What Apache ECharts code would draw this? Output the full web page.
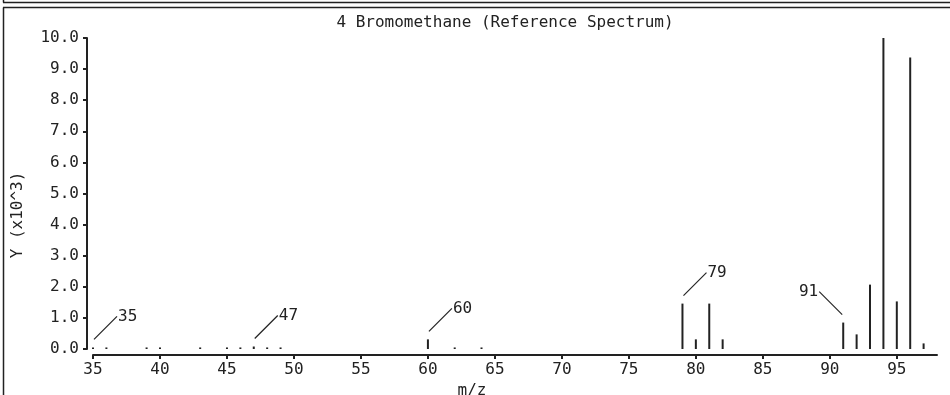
<!DOCTYPE html>
<html>
<head>
<meta charset="utf-8">
<script src="https://cdn.jsdelivr.net/npm/echarts@6/dist/echarts.min.js"></script>
<style>
html,body{margin:0;padding:0;background:#fff;}
#chart{width:950px;height:395px;}
</style>
</head>
<body>
<div id="chart"></div>
<script>
// ---- data (intensity in units of 10^3) ----
var titleText = '4 Bromomethane (Reference Spectrum)';
var xAxisName = 'm/z';
var yAxisName = 'Y (x10^3)';
var mz = [35, 36, 39, 40, 43, 45, 46, 47, 48, 49, 60, 62, 64, 79, 80, 81, 82, 91, 92, 93, 94, 95, 96, 97];
var intensity = [0.05, 0.05, 0.05, 0.05, 0.05, 0.05, 0.05, 0.08, 0.05, 0.05, 0.31, 0.05, 0.05, 1.46, 0.31, 1.46, 0.31, 0.85, 0.47, 2.07, 10.0, 1.53, 9.37, 0.18];
var annotMz = [35, 47, 60, 79, 91];
var annotSide = [1, 1, 1, 1, -1];
var xTicks = [35, 40, 45, 50, 55, 60, 65, 70, 75, 80, 85, 90, 95];
var yTicks = [0, 1, 2, 3, 4, 5, 6, 7, 8, 9, 10];

var FONT = 'DejaVu Sans Mono';
var FS = 16;
var INK = '#222';

var barData = mz.map(function (m, i) { return [m, intensity[i]]; });
var annotData = annotMz.map(function (m) { return [m, intensity[mz.indexOf(m)]]; });

var chart = echarts.init(document.getElementById('chart'), null, {renderer: 'canvas'});
chart.setOption({
  animation: false,
  backgroundColor: '#fff',
  title: {
    text: titleText,
    left: 500,
    top: 10,
    textAlign: 'center',
    textStyle: {fontFamily: FONT, fontSize: FS, fontWeight: 'normal', color: INK}
  },
  grid: {left: 93, right: 13, top: 38, bottom: 46},
  xAxis: {
    type: 'value',
    min: 35, max: 98, interval: 5,
    offset: 6,
    splitLine: {show: false},
    axisLine: {onZero: false, lineStyle: {color: INK, width: 2}},
    axisTick: {show: true, length: 4, lineStyle: {color: INK, width: 2}, customValues: xTicks},
    axisLabel: {customValues: xTicks, margin: 7, fontFamily: FONT, fontSize: FS, color: INK}
  },
  yAxis: {
    type: 'value',
    min: 0, max: 10, interval: 1,
    offset: 6,
    splitLine: {show: false},
    axisLine: {show: true, onZero: false, lineStyle: {color: INK, width: 2}},
    axisTick: {show: true, length: 4, lineStyle: {color: INK, width: 2}, customValues: yTicks},
    axisLabel: {customValues: yTicks, margin: 8, fontFamily: FONT, fontSize: FS, color: INK,
      formatter: function (v) { return Number(v).toFixed(1); }}
  },
  series: [
    {
      type: 'bar',
      data: barData,
      barWidth: 2,
      itemStyle: {color: INK},
      silent: true
    },
    {
      type: 'custom',
      data: annotData,
      clip: false,
      silent: true,
      renderItem: function (params, api) {
        var i = params.dataIndex;
        var p = api.coord([api.value(0), api.value(1)]);
        var s = annotSide[i];
        var x0 = p[0] + s * 1, y0 = p[1] - 8;
        var x1 = p[0] + s * 24, y1 = p[1] - 31;
        return {
          type: 'group',
          children: [
            {type: 'line', shape: {x1: x0, y1: y0, x2: x1, y2: y1}, style: {stroke: INK, lineWidth: 1.2}},
            {type: 'text', x: x1 + s * 1, y: y1,
              style: {text: String(annotMz[i]), font: FS + 'px "' + FONT + '"', fill: INK,
                align: s > 0 ? 'left' : 'right', verticalAlign: 'middle'}}
          ]
        };
      }
    }
  ],
  graphic: [
    {type: 'line', shape: {x1: 3.5, y1: 0, x2: 3.5, y2: 2.5}, style: {stroke: INK, lineWidth: 1.5}},
    {type: 'line', shape: {x1: 3, y1: 2.5, x2: 950, y2: 2.5}, style: {stroke: INK, lineWidth: 1.5}},
    {type: 'line', shape: {x1: 3, y1: 7.5, x2: 950, y2: 7.5}, style: {stroke: INK, lineWidth: 1.5}},
    {type: 'line', shape: {x1: 3.5, y1: 7.5, x2: 3.5, y2: 395}, style: {stroke: INK, lineWidth: 1.5}},
    {type: 'text', x: 470, y: 1.5, style: {text: xAxisName, font: FS + 'px "' + FONT + '"', fill: INK, align: 'center', verticalAlign: 'bottom'}},
    {type: 'text', x: 472, y: 383, style: {text: xAxisName, font: FS + 'px "' + FONT + '"', fill: INK, align: 'center', verticalAlign: 'top'}},
    {type: 'text', x: 18, y: 215, rotation: Math.PI / 2,
      style: {text: yAxisName, font: FS + 'px "' + FONT + '"', fill: INK, align: 'center', verticalAlign: 'middle'}}
  ]
});
</script>
</body>
</html>
